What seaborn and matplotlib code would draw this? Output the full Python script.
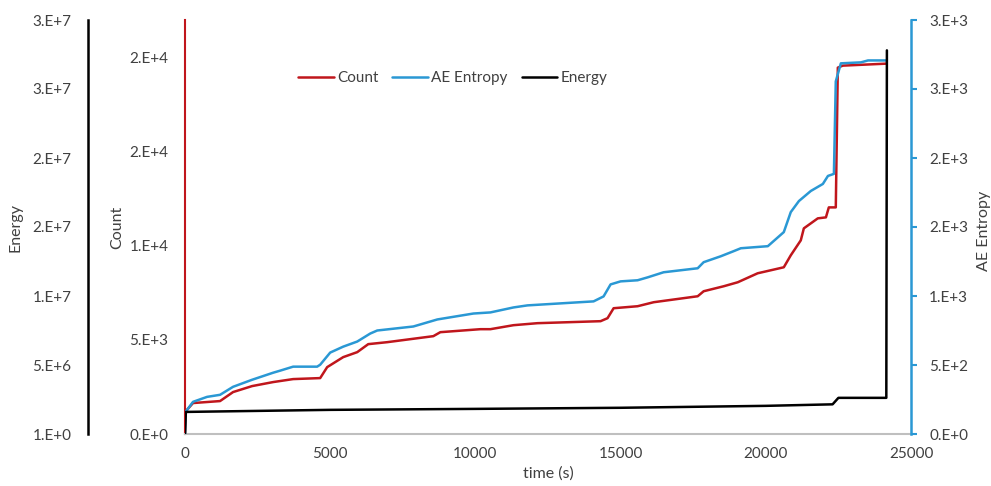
import math
import matplotlib
matplotlib.use("Agg")
import matplotlib.pyplot as plt
from matplotlib.ticker import FuncFormatter, MultipleLocator, FixedLocator
import seaborn as sns

# Cumulative acoustic emission parameters versus time
count_t = [0, 20, 276, 1207, 1655, 2310, 3034, 3724, 4655, 4896, 5448, 5931, 6310,
           6965, 8551, 8793, 10172, 10517, 11310, 12138, 14310, 14550, 14760, 15585,
           16140, 17655, 17860, 18550, 19035, 19720, 20170, 20620, 20860, 21205,
           21310, 21790, 22070, 22170, 22410, 22480, 22650, 24140]
count_v = [0, 1200, 1645, 1750, 2228, 2546, 2759, 2918, 2971, 3554, 4085, 4350, 4775,
           4880, 5199, 5411, 5570, 5570, 5782, 5889, 5995, 6154, 6684, 6790,
           7003, 7320, 7586, 7851, 8064, 8541, 8700, 8860, 9496, 10292,
           10928, 11459, 11512, 12042, 12042, 19469, 19575, 19680]

entropy_t = [0, 20, 276, 759, 1207, 1655, 2310, 3034, 3276, 3724, 4550, 4655, 5000,
             5448, 5931, 6379, 6620, 7862, 8689, 9931, 10517, 11310, 11793, 14069,
             14414, 14655, 15000, 15585, 15930, 16480, 17655, 17860, 18450, 18895,
             19140, 20070, 20620, 20860, 21140, 21550, 21965, 22140, 22345, 22410,
             22585, 23275, 23520, 24140]
entropy_v = [0, 160, 233, 269, 284, 342, 393, 444, 459, 488, 488, 502, 590,
             633, 670, 728, 750, 779, 830, 873, 881, 917, 932, 961,
             997, 1084, 1106, 1114, 1135, 1172, 1201, 1245, 1288, 1325,
             1346, 1361, 1463, 1608, 1688, 1761, 1812, 1870, 1885, 2555,
             2686, 2693, 2707, 2707]

energy_t = [0, 30, 5000, 10000, 15000, 20000, 22300, 22500, 24150, 24170]
energy_v = [1, 1.6e6, 1.75e6, 1.82e6, 1.9e6, 2.04e6, 2.15e6, 2.62e6, 2.62e6, 2.78e7]

x_ticks = [0, 5000, 10000, 15000, 20000, 25000]

RED = "#c0161c"
BLUE = "#2a98d4"
BLACK = "#000000"
TXT = "#404040"

sns.set_theme(style="white")
plt.rcParams["font.family"] = ["Lato", "DejaVu Sans"]


def excel_sci(v, pos=None):
    if v == 0:
        return "0.E+0"
    e = int(math.floor(math.log10(abs(v))))
    r = int(math.floor(v / 10 ** e + 0.5))
    if r == 10:
        r, e = 1, e + 1
    return f"{r}.E+{e}"


W, H = 991, 486
fig = plt.figure(figsize=(W / 100, H / 100), dpi=100)
L, R, B, T = 185, 911, 434, 20
AW = R - L
ax = fig.add_axes([L / W, (H - B) / H, AW / W, (B - T) / H])
ax_ent = ax.twinx()
ax_en = ax.twinx()

sns.lineplot(x=count_t, y=count_v, ax=ax, color=RED, lw=1.8, estimator=None, sort=False)
sns.lineplot(x=entropy_t, y=entropy_v, ax=ax_ent, color=BLUE, lw=1.8, estimator=None, sort=False)
sns.lineplot(x=energy_t, y=energy_v, ax=ax_en, color=BLACK, lw=1.8, estimator=None, sort=False)

# x axis
ax.set_xlim(0, 25000)
ax.xaxis.set_major_locator(FixedLocator(x_ticks))
ax.tick_params(axis="x", length=0, pad=9, labelsize=11, labelcolor=TXT)
ax.set_xlabel("time (s)", fontsize=11.5, color=TXT)
ax.xaxis.set_label_coords(0.5, -0.078)

# Count axis (left, red)
ax.set_ylim(0, 22000)
ax.yaxis.set_major_locator(MultipleLocator(5000))
ax.yaxis.set_major_formatter(FuncFormatter(excel_sci))
ax.tick_params(axis="y", length=0, pad=12, labelsize=11, labelcolor=TXT)
ax.set_ylabel("Count", fontsize=11.5, color=TXT)
ax.yaxis.set_label_coords((124 - L) / AW, 0.5)

# AE Entropy axis (right, blue)
ax_ent.set_ylim(0, 3000)
ax_ent.yaxis.set_major_locator(MultipleLocator(500))
ax_ent.yaxis.set_major_formatter(FuncFormatter(excel_sci))
ax_ent.tick_params(axis="y", length=4, width=1.5, color=BLUE, pad=9, labelsize=11,
                   labelcolor=TXT, direction="out")
ax_ent.set_ylabel("AE Entropy", fontsize=11.5, color=TXT)
ax_ent.yaxis.set_label_coords((977 - L) / AW, 0.49)

# Energy axis (outer left, black); offset given in points
ax_en.set_ylim(1, 3e7 + 1)
ax_en.yaxis.set_major_locator(FixedLocator([1 + k * 5e6 for k in range(7)]))
ax_en.yaxis.set_major_formatter(FuncFormatter(excel_sci))
ax_en.spines["left"].set_position(("outward", (L - 88) * 0.72))
ax_en.yaxis.set_ticks_position("left")
ax_en.yaxis.set_label_position("left")
ax_en.tick_params(axis="y", length=0, pad=12, labelsize=11, labelcolor=TXT)
ax_en.set_ylabel("Energy", fontsize=11.5, color=TXT)
ax_en.yaxis.set_label_coords((23 - L) / AW, 0.5)

for a in (ax, ax_ent, ax_en):
    for s in a.spines.values():
        s.set_visible(False)
    a.grid(False)
ax_ent.patch.set_visible(False)
ax_en.patch.set_visible(False)

ax.spines["bottom"].set_visible(True)
ax.spines["bottom"].set_color("#bfbfbf")
ax.spines["bottom"].set_linewidth(1.5)
ax.spines["left"].set_visible(True)
ax.spines["left"].set_color(RED)
ax.spines["left"].set_linewidth(1.5)
ax_ent.spines["right"].set_visible(True)
ax_ent.spines["right"].set_color(BLUE)
ax_ent.spines["right"].set_linewidth(1.8)
ax_en.spines["left"].set_visible(True)
ax_en.spines["left"].set_color(BLACK)
ax_en.spines["left"].set_linewidth(1.8)

handles = [ax.get_lines()[0], ax_ent.get_lines()[0], ax_en.get_lines()[0]]
ax_en.legend(handles, ["Count", "AE Entropy", "Energy"], loc="center",
             bbox_to_anchor=(0.369, 0.86), ncol=3, frameon=False, fontsize=11,
             handlelength=2.35, handletextpad=0.2, columnspacing=0.9,
             labelcolor=TXT)

fig.savefig("out.png", dpi=100)
